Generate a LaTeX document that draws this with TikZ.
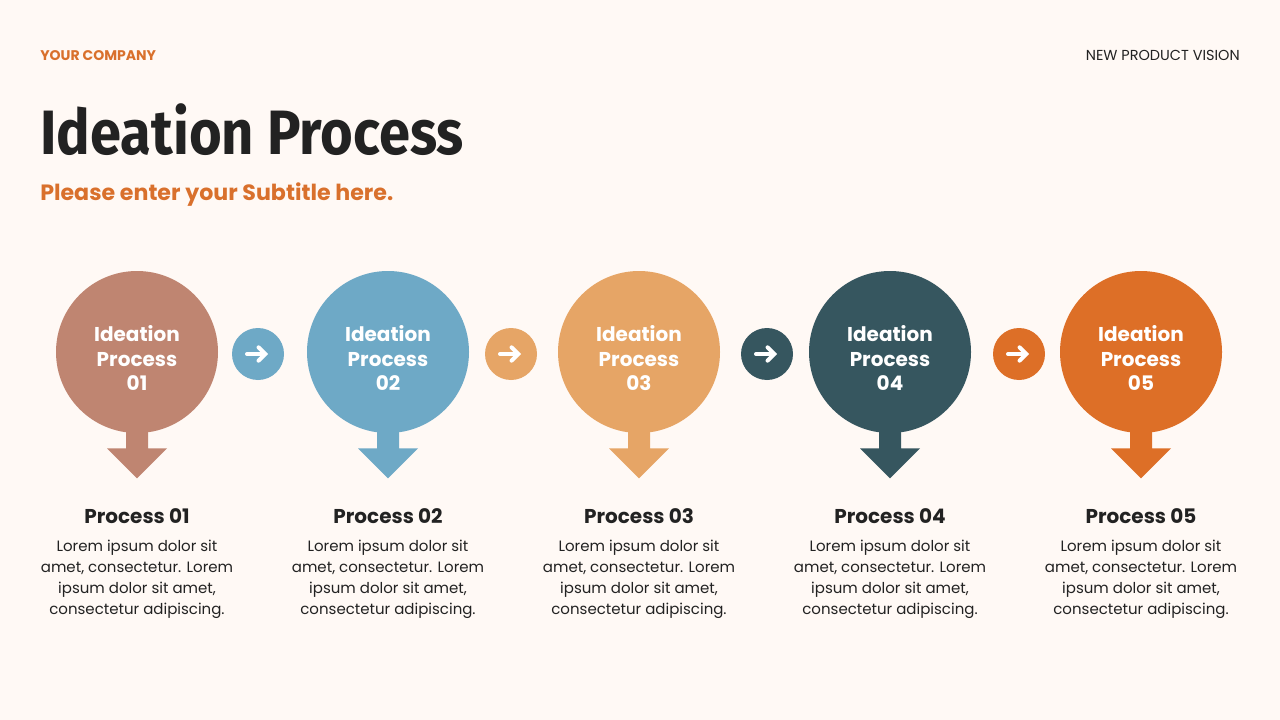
\documentclass[tikz,border=0pt]{standalone}
\usepackage{fontspec}
\setmainfont{Poppins}
\newfontfamily\titlefont{Fira Sans}
\usetikzlibrary{arrows.meta}

\definecolor{bgcream}{HTML}{FFF9F5}
\definecolor{brandorange}{HTML}{D9702C}
\definecolor{textdark}{HTML}{222222}
\definecolor{clay}{HTML}{BF8571}
\definecolor{sky}{HTML}{6EA9C6}
\definecolor{sand}{HTML}{E6A566}
\definecolor{slate}{HTML}{36565F}
\definecolor{rust}{HTML}{DD6F27}

% down arrow under a process circle
\newcommand{\procarrow}[2]{%
  \fill[#2] (#1.south) ++(-11,-10) -- ++(0,25) -- ++(-19,0) -- ++(30,30)
    -- ++(30,-30) -- ++(-19,0) -- ++(0,-25) -- cycle;}
% white arrow inside a link circle
\newcommand{\linkarrow}[1]{%
  \draw[white, line width=3pt, line cap=round, -{Straight Barb[length=5pt, width=10pt, line cap=round]}]
    (#1.center) ++(-11,0) -- ++(21,0);}
% text inside a process circle
\newcommand{\circlabel}[1]{\raisebox{-10.5pt}[0pt][0pt]{\begin{tabular}{@{}c@{}}Ideation\\Process\\#1\end{tabular}}}

\begin{document}
\begin{tikzpicture}[
        x=0.75pt, y=-0.75pt,
        bigcirc/.style={circle, minimum size=121.5pt, inner sep=0pt, text=white,
            font=\fontsize{15}{18.4}\selectfont\bfseries},
        linkcirc/.style={circle, minimum size=39pt, inner sep=0pt},
        proctitle/.style={anchor=base, inner sep=0pt, text=textdark, font=\fontsize{15}{18}\selectfont\bfseries},
        proctext/.style={anchor=north, inner sep=0pt, align=center, text=textdark,
            font=\fontsize{11.25}{15.75}\selectfont}
    ]
        % Background
        \fill[bgcream] (0,0) rectangle (1280,720);
        \useasboundingbox (0,0) rectangle (1280,720);

        % Header
        \node[anchor=base west, inner sep=0pt, text=brandorange, font=\fontsize{10.5}{12}\selectfont\bfseries] (company) at (40,61) {YOUR COMPANY};
        \node[anchor=base east, inner sep=0pt, text=textdark, font=\fontsize{10.85}{12}\selectfont] (vision) at (1240,61) {NEW PRODUCT VISION};
        \node[anchor=base west, inner sep=0pt, text=textdark, font=\titlefont\fontsize{47}{54}\selectfont\bfseries] (title) at (40,155) {\scalebox{0.895}[1]{Ideation Process}};
        \node[anchor=base west, inner sep=0pt, text=brandorange, font=\fontsize{16.6}{19}\selectfont\bfseries] (subtitle) at (40,201) {Please enter your Subtitle here.};

        % Circle centres
        \coordinate (c1) at (137,352);
        \coordinate (c2) at (388,352);
        \coordinate (c3) at (639,352);
        \coordinate (c4) at (890,352);
        \coordinate (c5) at (1141,352);

        % Process circles
        \node[bigcirc, fill=clay] (p1) at (c1) {\circlabel{01}};
        \node[bigcirc, fill=sky] (p2) at (c2) {\circlabel{02}};
        \node[bigcirc, fill=sand] (p3) at (c3) {\circlabel{03}};
        \node[bigcirc, fill=slate] (p4) at (c4) {\circlabel{04}};
        \node[bigcirc, fill=rust] (p5) at (c5) {\circlabel{05}};

        \procarrow{p1}{clay}
        \procarrow{p2}{sky}
        \procarrow{p3}{sand}
        \procarrow{p4}{slate}
        \procarrow{p5}{rust}

        % Link circles
        \node[linkcirc, fill=sky] (l1) at (258,354) {};
        \node[linkcirc, fill=sand] (l2) at (511,354) {};
        \node[linkcirc, fill=slate] (l3) at (767,354) {};
        \node[linkcirc, fill=rust] (l4) at (1019,354) {};
        \linkarrow{l1}
        \linkarrow{l2}
        \linkarrow{l3}
        \linkarrow{l4}

        % Captions
        \node[proctitle] (t1) at (137,523) {Process 01};
        \node[proctitle] (t2) at (388,523) {Process 02};
        \node[proctitle] (t3) at (639,523) {Process 03};
        \node[proctitle] (t4) at (890,523) {Process 04};
        \node[proctitle] (t5) at (1141,523) {Process 05};

        \node[proctext] (d1) at (137,540) {Lorem ipsum dolor sit\\amet, consectetur. Lorem\\ipsum dolor sit amet,\\consectetur adipiscing.};
        \node[proctext] (d2) at (388,540) {Lorem ipsum dolor sit\\amet, consectetur. Lorem\\ipsum dolor sit amet,\\consectetur adipiscing.};
        \node[proctext] (d3) at (639,540) {Lorem ipsum dolor sit\\amet, consectetur. Lorem\\ipsum dolor sit amet,\\consectetur adipiscing.};
        \node[proctext] (d4) at (890,540) {Lorem ipsum dolor sit\\amet, consectetur. Lorem\\ipsum dolor sit amet,\\consectetur adipiscing.};
        \node[proctext] (d5) at (1141,540) {Lorem ipsum dolor sit\\amet, consectetur. Lorem\\ipsum dolor sit amet,\\consectetur adipiscing.};
    \end{tikzpicture}
\end{document}
